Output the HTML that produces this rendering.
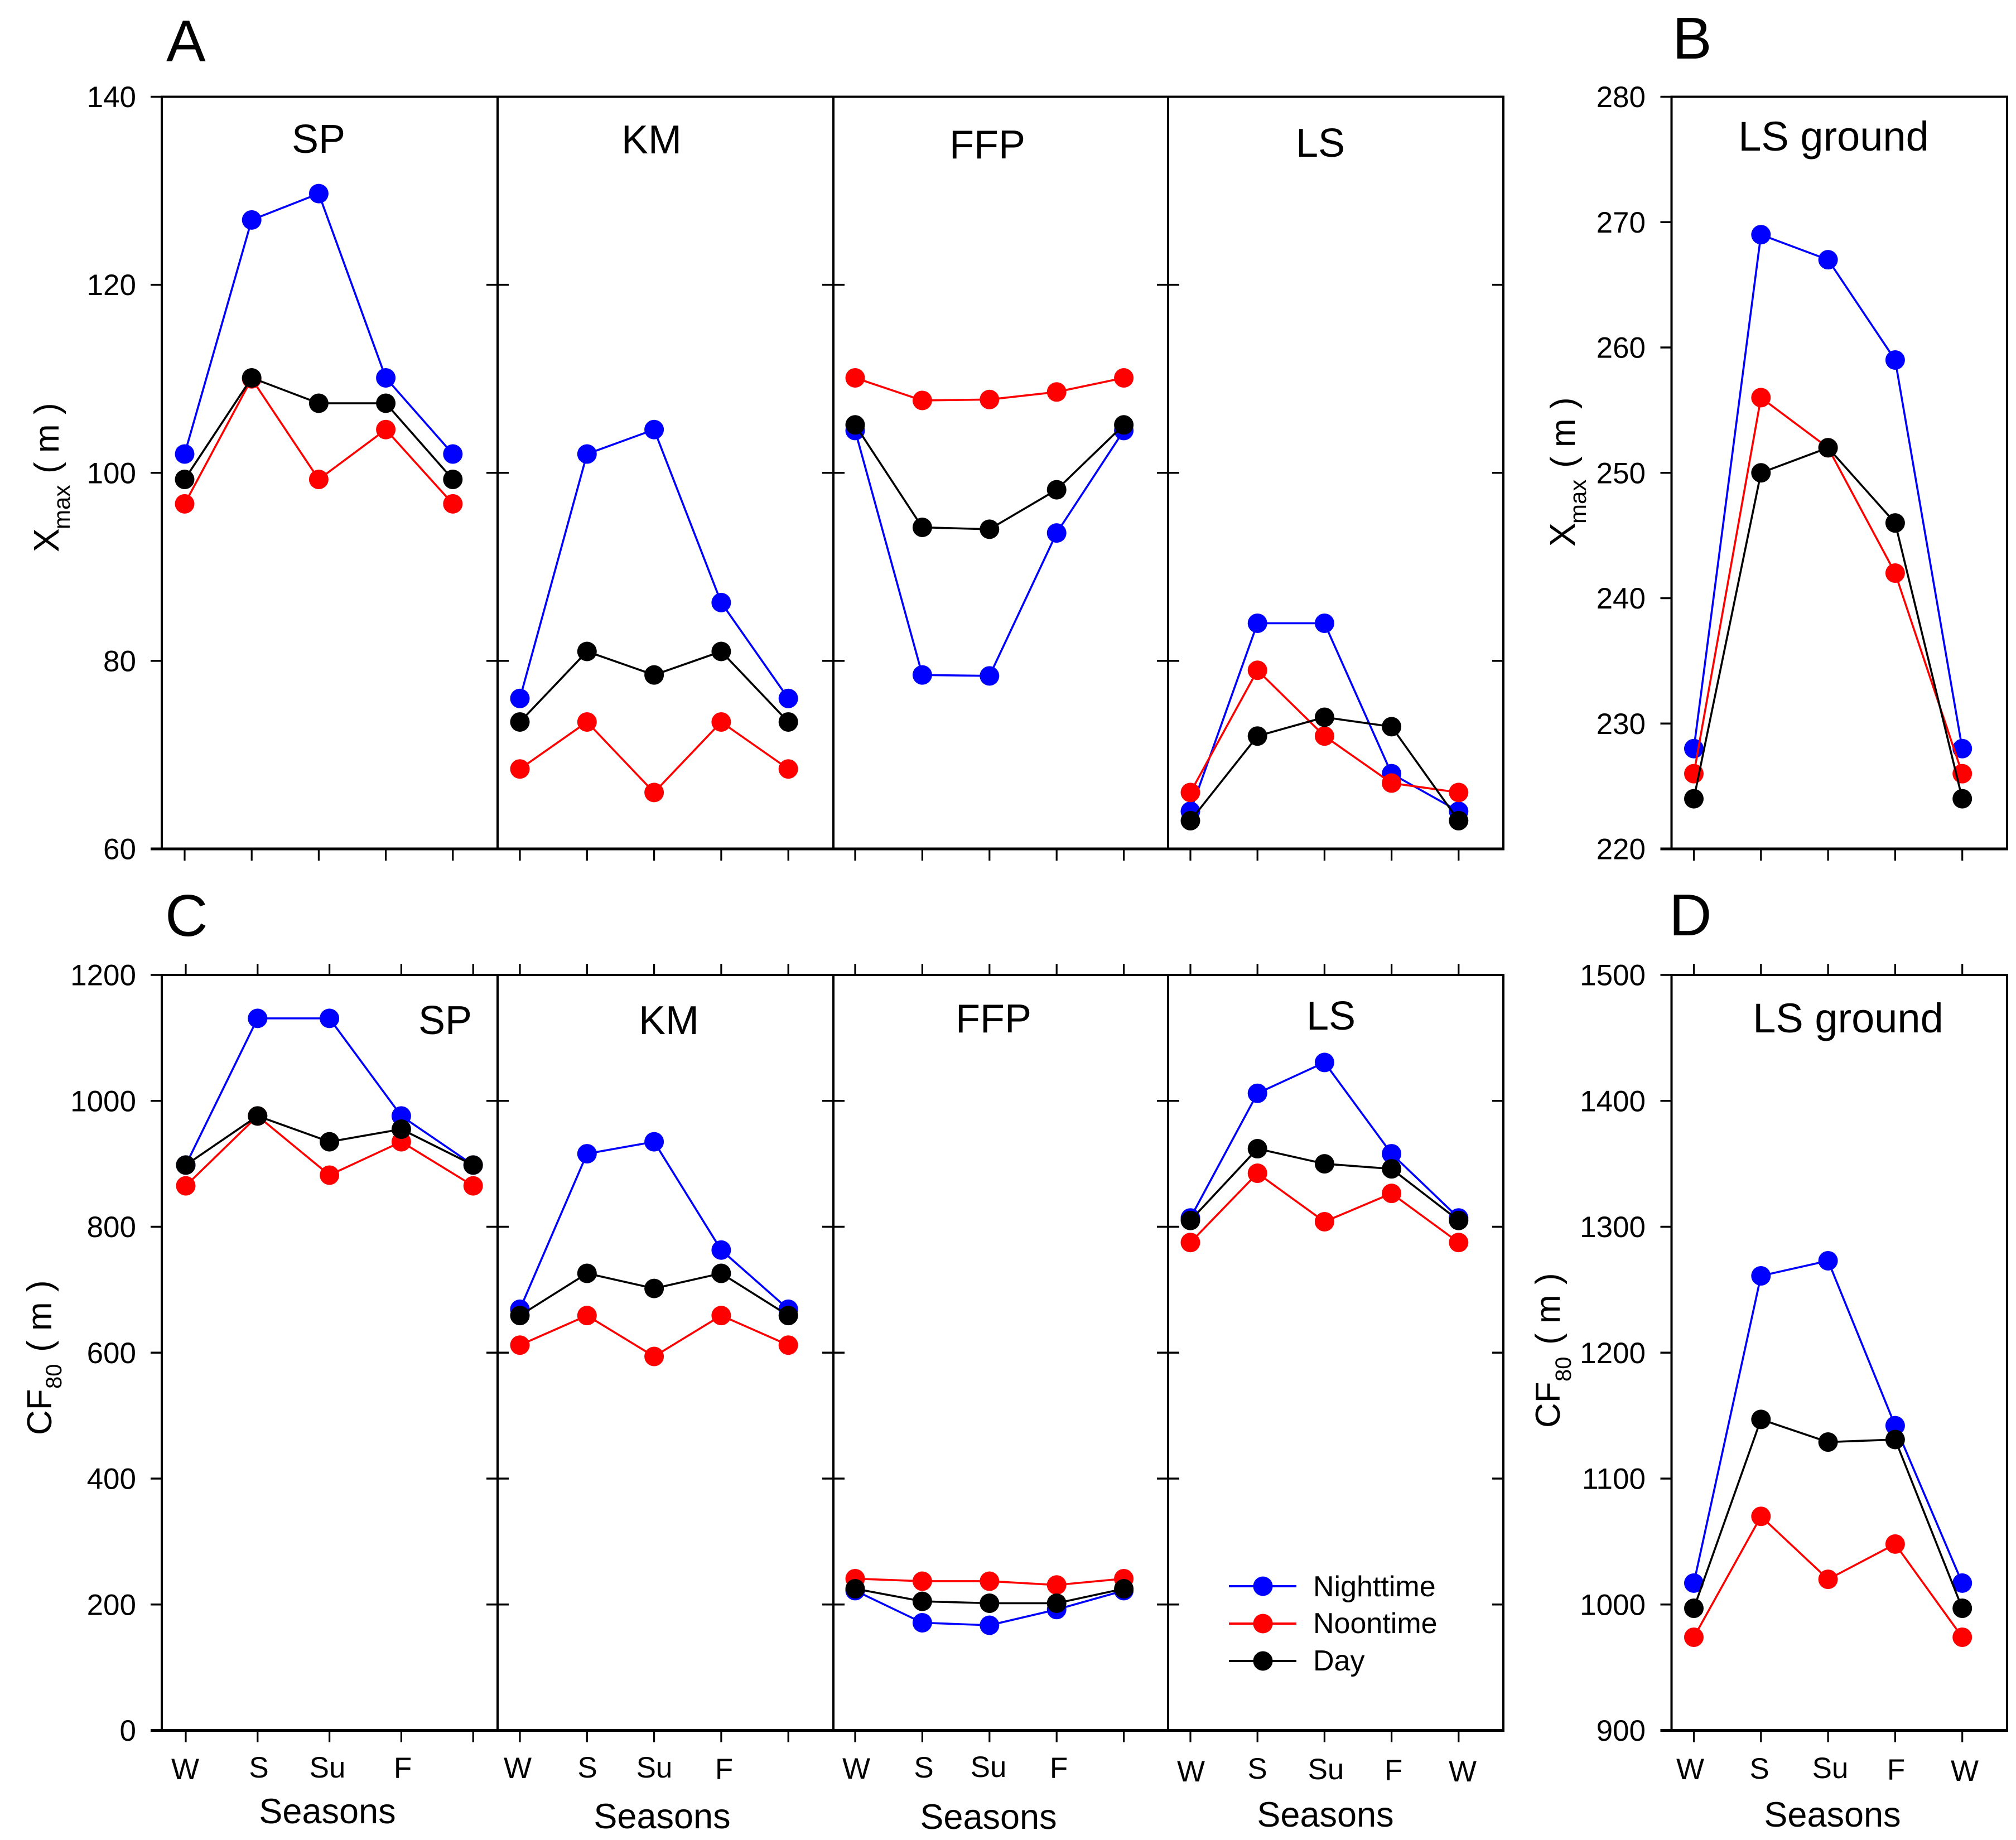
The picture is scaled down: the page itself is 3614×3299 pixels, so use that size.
<!DOCTYPE html>
<html lang="en">
<head>
<meta charset="utf-8">
<title>Xmax and CF80 by season</title>
<style>
html,body{margin:0;padding:0;background:#fff;}
svg{display:block;}
text{font-family:"Liberation Sans",Arial,sans-serif;fill:#000;}
</style>
</head>
<body>
<svg id="chart" xmlns="http://www.w3.org/2000/svg" width="3614" height="3299" viewBox="0 0 3614 3299">
<rect width="3614" height="3299" fill="#fff"/>
<g id="marks"></g>

<g font-size="106">
<text x="298" y="110">A</text>
<text x="2998" y="105">B</text>
<text x="296" y="1678">C</text>
<text x="2992" y="1677">D</text>
</g>

<g font-size="72" text-anchor="middle">
<text x="571" y="274">SP</text>
<text x="1168" y="275">KM</text>
<text x="1770" y="284">FFP</text>
<text x="2367" y="281">LS</text>
<text x="3287" y="270" font-size="74">LS ground</text>
<text x="798" y="1854">SP</text>
<text x="1199" y="1854">KM</text>
<text x="1781" y="1851">FFP</text>
<text x="2386" y="1846">LS</text>
<text x="3313" y="1851" font-size="74">LS ground</text>
</g>

<g font-size="62">
<text transform="rotate(-90)"><tspan x="-990" y="105" font-size="64">X</tspan><tspan x="-949" y="125" font-size="42">max</tspan><tspan x="-849" y="105">(</tspan><tspan x="-812" y="105">m</tspan><tspan x="-743" y="105">)</tspan></text>
<text transform="rotate(-90)"><tspan x="-980" y="2823" font-size="64">X</tspan><tspan x="-939" y="2843" font-size="42">max</tspan><tspan x="-839" y="2823">(</tspan><tspan x="-802" y="2823">m</tspan><tspan x="-733" y="2823">)</tspan></text>
<text transform="rotate(-90)"><tspan x="-2573" y="92">CF</tspan><tspan x="-2490" y="110" font-size="40">80</tspan><tspan x="-2424" y="92">(</tspan><tspan x="-2386" y="92">m</tspan><tspan x="-2316" y="92">)</tspan></text>
<text transform="rotate(-90)"><tspan x="-2560" y="2796">CF</tspan><tspan x="-2477" y="2816" font-size="40">80</tspan><tspan x="-2411" y="2796">(</tspan><tspan x="-2373" y="2796">m</tspan><tspan x="-2303" y="2796">)</tspan></text>
</g>

<g font-size="53" text-anchor="middle">
<text x="332" y="3190">W</text>
<text x="464" y="3187">S</text>
<text x="587" y="3187">Su</text>
<text x="722" y="3188">F</text>
<text x="928" y="3188">W</text>
<text x="1053" y="3187">S</text>
<text x="1173" y="3187">Su</text>
<text x="1298" y="3190">F</text>
<text x="1535" y="3189">W</text>
<text x="1656" y="3187">S</text>
<text x="1772" y="3186">Su</text>
<text x="1898" y="3188">F</text>
<text x="2135" y="3194">W</text>
<text x="2254" y="3189">S</text>
<text x="2377" y="3190">Su</text>
<text x="2498" y="3192">F</text>
<text x="2622" y="3194">W</text>
<text x="3030" y="3190">W</text>
<text x="3154" y="3189">S</text>
<text x="3281" y="3188">Su</text>
<text x="3399" y="3191">F</text>
<text x="3522" y="3193">W</text>
</g>

<g font-size="63" text-anchor="middle">
<text x="587" y="3269">Seasons</text>
<text x="1187" y="3278">Seasons</text>
<text x="1772" y="3279">Seasons</text>
<text x="2376" y="3275">Seasons</text>
<text x="3285" y="3275">Seasons</text>
</g>

<g font-size="52">
<g>
<line x1="2203" y1="2844" x2="2324" y2="2844" stroke="#0000ff" stroke-width="4"/>
<circle cx="2264" cy="2844" r="17.5" fill="#0000ff"/>
<text x="2354" y="2862">Nighttime</text>
</g>
<g>
<line x1="2203" y1="2911" x2="2324" y2="2911" stroke="#ff0000" stroke-width="4"/>
<circle cx="2264" cy="2911" r="17.5" fill="#ff0000"/>
<text x="2354" y="2928">Noontime</text>
</g>
<g>
<line x1="2203" y1="2978" x2="2324" y2="2978" stroke="#000000" stroke-width="4"/>
<circle cx="2264" cy="2978" r="17.5" fill="#000000"/>
<text x="2354" y="2995">Day</text>
</g>
</g>
</svg>

<script>
// Panel A: Xmax (m)
const xmaxSpNight = [102, 126.9, 129.7, 110.1, 102];
const xmaxSpNoon = [96.7, 110, 99.3, 104.6, 96.7];
const xmaxSpDay = [99.3, 110.1, 107.4, 107.4, 99.3];
const xmaxKmNight = [76, 102, 104.6, 86.2, 76];
const xmaxKmNoon = [68.5, 73.5, 66, 73.5, 68.5];
const xmaxKmDay = [73.5, 81, 78.5, 81, 73.5];
const xmaxFfpNight = [104.5, 78.5, 78.4, 93.6, 104.5];
const xmaxFfpNoon = [110.1, 107.7, 107.8, 108.6, 110.1];
const xmaxFfpDay = [105.1, 94.2, 94, 98.2, 105.1];
const xmaxLsNight = [64, 84, 84, 68, 64];
const xmaxLsNoon = [66, 79, 72, 67, 66];
const xmaxLsDay = [63, 72, 74, 73, 63];
// Panel B: Xmax (m), LS ground
const xmaxGroundNight = [228, 269, 267, 259, 228];
const xmaxGroundNoon = [226, 256, 252, 242, 226];
const xmaxGroundDay = [224, 250, 252, 246, 224];
// Panel C: CF80 (m)
const cfSpNight = [898, 1131, 1131, 976, 898];
const cfSpNoon = [865, 976, 882, 935, 865];
const cfSpDay = [898, 976, 935, 955, 898];
const cfKmNight = [669, 916, 935, 763, 669];
const cfKmNoon = [612, 659, 594, 659, 612];
const cfKmDay = [659, 726, 702, 726, 659];
const cfFfpNight = [222, 171, 167, 192, 222];
const cfFfpNoon = [241, 237, 237, 231, 241];
const cfFfpDay = [225, 205, 202, 202, 225];
const cfLsNight = [814, 1012, 1061, 916, 814];
const cfLsNoon = [775, 885, 808, 853, 775];
const cfLsDay = [810, 924, 900, 892, 810];
// Panel D: CF80 (m), LS ground
const cfGroundNight = [1017, 1261, 1273, 1142, 1017];
const cfGroundNoon = [974, 1070, 1020, 1048, 974];
const cfGroundDay = [997, 1147, 1129, 1131, 997];
// Tick labels
const xmaxTicks = [60, 80, 100, 120, 140];
const xmaxGroundTicks = [220, 230, 240, 250, 260, 270, 280];
const cfTicks = [0, 200, 400, 600, 800, 1000, 1200];
const cfGroundTicks = [900, 1000, 1100, 1200, 1300, 1400, 1500];
const seasonSlots = [0, 1, 2, 3, 4];

const NS = 'http://www.w3.org/2000/svg';
const root = document.getElementById('marks');
const NIGHT = '#0000ff', NOON = '#ff0000', DAY = '#000000';

function mk(parent, tag, attrs) {
  const el = document.createElementNS(NS, tag);
  for (const k in attrs) el.setAttribute(k, attrs[k]);
  parent.appendChild(el);
  return el;
}
function yScale(row, v) {
  return row.y0 + (v - row.min) / (row.max - row.min) * (row.y1 - row.y0);
}

const rowTop = {y0: 1522, y1: 173.5};
const rowBottom = {y0: 3102.5, y1: 1748};
const groups = [
  {row: rowTop, ticks: xmaxTicks, min: 60, max: 140, labelX: 244, left: 290, right: 2695,
   panels: [
     {name: 'a-sp', left: 290, right: 892, x0: 331, dx: 120.2, n: xmaxSpNight, o: xmaxSpNoon, d: xmaxSpDay},
     {name: 'a-km', left: 892, right: 1494, x0: 932, dx: 120.3, n: xmaxKmNight, o: xmaxKmNoon, d: xmaxKmDay},
     {name: 'a-ffp', left: 1494, right: 2094, x0: 1533, dx: 120.4, n: xmaxFfpNight, o: xmaxFfpNoon, d: xmaxFfpDay},
     {name: 'a-ls', left: 2094, right: 2695, x0: 2134, dx: 120.2, n: xmaxLsNight, o: xmaxLsNoon, d: xmaxLsDay}
   ]},
  {row: rowTop, ticks: xmaxGroundTicks, min: 220, max: 280, labelX: 2950, left: 2996.5, right: 3598,
   panels: [
     {name: 'b-ls-ground', left: 2996.5, right: 3598, x0: 3036.5, dx: 120.3, n: xmaxGroundNight, o: xmaxGroundNoon, d: xmaxGroundDay}
   ]},
  {row: rowBottom, ticks: cfTicks, min: 0, max: 1200, labelX: 244, left: 290, right: 2695,
   panels: [
     {name: 'c-sp', left: 290, right: 892, x0: 333, dx: 128.8, n: cfSpNight, o: cfSpNoon, d: cfSpDay},
     {name: 'c-km', left: 892, right: 1494, x0: 932, dx: 120.3, n: cfKmNight, o: cfKmNoon, d: cfKmDay},
     {name: 'c-ffp', left: 1494, right: 2094, x0: 1533, dx: 120.4, n: cfFfpNight, o: cfFfpNoon, d: cfFfpDay},
     {name: 'c-ls', left: 2094, right: 2695, x0: 2134, dx: 120.2, n: cfLsNight, o: cfLsNoon, d: cfLsDay}
   ]},
  {row: rowBottom, ticks: cfGroundTicks, min: 900, max: 1500, labelX: 2950, left: 2996.5, right: 3598,
   panels: [
     {name: 'd-ls-ground', left: 2996.5, right: 3598, x0: 3036.5, dx: 120.3, n: cfGroundNight, o: cfGroundNoon, d: cfGroundDay}
   ]}
];

function drawSeries(parent, panel, row, values, color, label) {
  const g = mk(parent, 'g', {});
  
  
  const pts = values.map(function (v, i) {
    return (panel.x0 + panel.dx * seasonSlots[i]) + ',' + yScale(row, v);
  }).join(' ');
  const line = mk(g, 'polyline', {points: pts, fill: 'none', stroke: color, 'stroke-width': 3.6});
  
  
  values.forEach(function (v, i) {
    const c = mk(g, 'circle', {cx: panel.x0 + panel.dx * seasonSlots[i], cy: yScale(row, v), r: 17.5, fill: color});
    
    
  });
}

groups.forEach(function (grp) {
  const row = {y0: grp.row.y0, y1: grp.row.y1, min: grp.min, max: grp.max};
  const axes = mk(root, 'g', {stroke: '#000', fill: 'none'});
  
  

  // frame
  mk(axes, 'rect', {x: grp.left, y: row.y1, width: grp.right - grp.left, height: row.y0 - row.y1, 'stroke-width': 4});
  mk(axes, 'line', {x1: grp.left - 20, y1: row.y0, x2: grp.right + 2, y2: row.y0, 'stroke-width': 5});

  // y ticks and labels
  grp.ticks.forEach(function (t) {
    const y = yScale(row, t);
    mk(axes, 'line', {x1: grp.left - 20, y1: y, x2: grp.left, y2: y, 'stroke-width': 3.5});
    const lab = mk(root, 'text', {x: grp.labelX, y: y + 18.5, 'font-size': 53, 'text-anchor': 'end'});
    
    
    lab.textContent = t;
    if (t === grp.min || t === grp.max) return;
    grp.panels.forEach(function (p, idx) {
      if (idx > 0) mk(axes, 'line', {x1: p.left - 20, y1: y, x2: p.left + 20, y2: y, 'stroke-width': 3.5});
    });
    if (grp.panels.length > 1) mk(axes, 'line', {x1: grp.right - 20, y1: y, x2: grp.right, y2: y, 'stroke-width': 3.5});
  });

  grp.panels.forEach(function (p, idx) {
    // panel dividers
    if (idx > 0) mk(axes, 'line', {x1: p.left, y1: row.y1, x2: p.left, y2: row.y0, 'stroke-width': 4});
    // x ticks: below the top row axes, above and below the bottom row axes
    seasonSlots.forEach(function (s) {
      const x = p.x0 + p.dx * s;
      mk(axes, 'line', {x1: x, y1: row.y0, x2: x, y2: row.y0 + 21, 'stroke-width': 3.2});
      if (grp.row === rowBottom) mk(axes, 'line', {x1: x, y1: row.y1, x2: x, y2: row.y1 - 20, 'stroke-width': 3.2});
    });
    const g = mk(root, 'g', {});
    
    
    drawSeries(g, p, row, p.n, NIGHT, 'nighttime');
    drawSeries(g, p, row, p.o, NOON, 'noontime');
    drawSeries(g, p, row, p.d, DAY, 'day');
  });
});
</script>
</body>
</html>
